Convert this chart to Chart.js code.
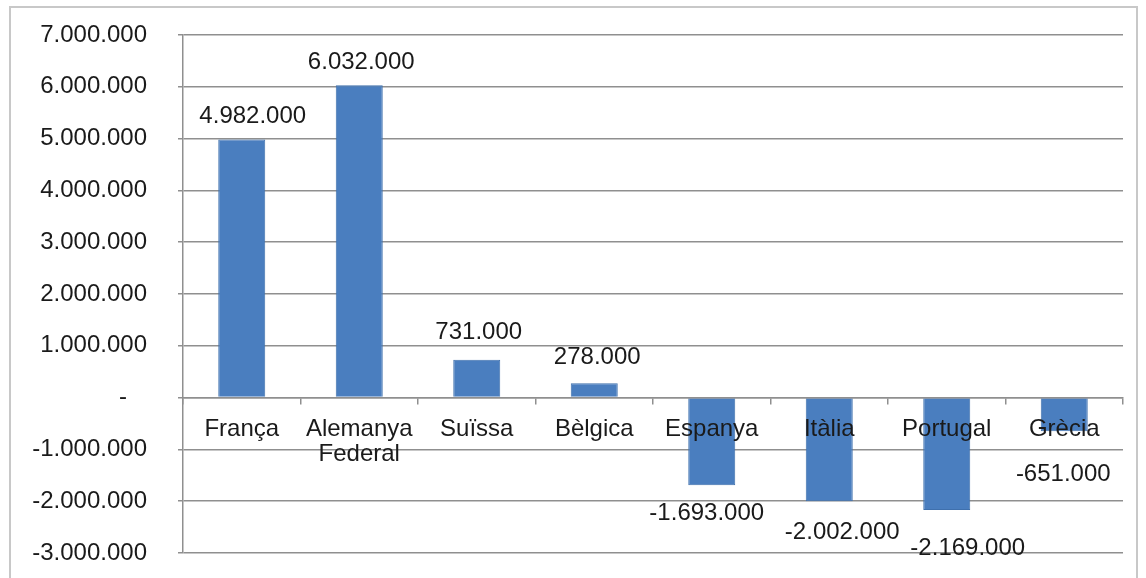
<!DOCTYPE html>
<html>
<head>
<meta charset="utf-8">
<script src="https://cdn.jsdelivr.net/npm/chart.js@4.4.1/dist/chart.umd.min.js"></script>
<style>
  body { margin: 0; background: #fff; }
  #wrap { width: 1146px; height: 578px; position: relative; }
</style>
</head>
<body>
<div id="wrap"><canvas id="grafic"></canvas></div>
<script>
// dades
var paisos = ['França', ['Alemanya', 'Federal'], 'Suïssa', 'Bèlgica', 'Espanya', 'Itàlia', 'Portugal', 'Grècia'];
var saldo = [4982000, 6032000, 731000, 278000, -1693000, -2002000, -2169000, -651000];
var eixY = { min: -3000000, max: 7000000, pas: 1000000 };

// desplaçament manual de les etiquetes (px), com a l'original
var desplEtiq = [[11, -23], [2, -23], [2, -27], [3, -26], [-5, 28], [13, 31], [21, 38], [-1, 43]];

var font = "'Liberation Sans', Arial, sans-serif";
var gris = '#8f8f8f';

function punts(v) {
  var s = String(Math.abs(v)).replace(/\B(?=(\d{3})+(?!\d))/g, '.');
  return (v < 0 ? '-' : '') + s;
}

var marc = {
  id: 'marc',
  beforeDraw: function(chart) {
    var c = chart.ctx;
    c.save();
    c.fillStyle = '#fff';
    c.fillRect(0, 0, chart.width, chart.height);
    c.strokeStyle = '#c8c8c8';
    c.lineWidth = 2;
    c.strokeRect(10, 7, 1127, 600);
    c.restore();
  }
};

var etiquetes = {
  id: 'etiquetes',
  afterDraw: function(chart) {
    var c = chart.ctx;
    var meta = chart.getDatasetMeta(0);
    c.save();
    c.font = '24px ' + font;
    c.fillStyle = '#1a1a1a';
    c.textAlign = 'center';
    c.textBaseline = 'middle';
    meta.data.forEach(function(bar, i) {
      var d = desplEtiq[i];
      c.fillText(punts(saldo[i]), bar.x + d[0], bar.y + d[1]);
    });
    c.restore();
  }
};

var ctx = document.getElementById('grafic');
new Chart(ctx, {
  type: 'bar',
  data: {
    labels: paisos,
    datasets: [{
      data: saldo,
      backgroundColor: '#4a7ebf',
      borderColor: '#3f70ad',
      borderWidth: 1,
      categoryPercentage: 1,
      barPercentage: 0.4
    }]
  },
  options: {
    responsive: true,
    maintainAspectRatio: false,
    animation: false,
    layout: { padding: { left: 0, right: 23, top: 35, bottom: 25 } },
    plugins: { legend: { display: false }, tooltip: { enabled: false } },
    scales: {
      x: {
        position: { y: 0 },
        grid: { offset: true, drawOnChartArea: false, drawTicks: true, tickLength: 6, color: gris, lineWidth: 1.5, z: 1 },
        border: { display: true, color: gris, width: 1.5, z: 1 },
        ticks: {
          z: 2,
          color: '#1a1a1a',
          padding: 13,
          maxRotation: 0,
          autoSkip: false,
          font: { family: font, size: 24, lineHeight: 1.05 }
        }
      },
      y: {
        min: eixY.min,
        max: eixY.max,
        afterFit: function(s) { s.width = 183; s.paddingTop = 14; s.paddingBottom = 14; },
        grid: { color: gris, lineWidth: 1.5, tickLength: 5 },
        border: { display: true, color: gris, width: 1.5 },
        ticks: {
          stepSize: eixY.pas,
          padding: 31,
          color: '#1a1a1a',
          font: { family: font, size: 24 },
          callback: function(v) { return v === 0 ? '-   ' : punts(v); }
        }
      }
    }
  },
  plugins: [marc, etiquetes]
});
</script>
</body>
</html>
